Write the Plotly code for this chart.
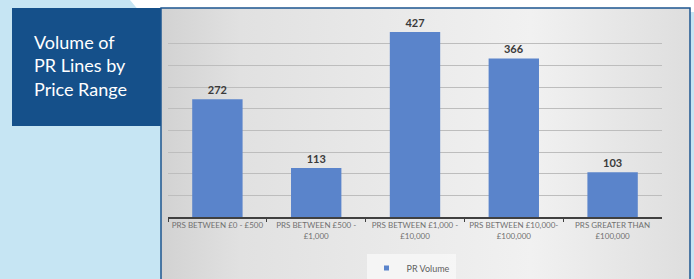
import plotly.graph_objects as go

categories = [
    "PRS BETWEEN £0 - £500",
    "PRS BETWEEN £500 -<br>£1,000",
    "PRS BETWEEN £1,000 -<br>£10,000",
    "PRS BETWEEN £10,000-<br>£100,000",
    "PRS GREATER THAN<br>£100,000",
]
pr_volume = [272, 113, 427, 366, 103]
series_name = "PR Volume"
title_text = "Volume of<br>PR Lines by<br>Price Range"

W, H = 694, 279
BAR_COLOR = "#5a84cb"
fig = go.Figure()

# panel background with gradient (on first subplot)
fig.add_trace(go.Scatter(
    x=[161, 690, 690, 161, 161], y=[8, 8, 279, 279, 8],
    mode="lines", line=dict(width=0), fill="toself",
    fillgradient=dict(type="horizontal",
                      colorscale=[[0, "#d2d2d2"], [0.15, "#e1e1e1"], [0.7, "#f1f1f1"], [1, "#dedede"]]),
    hoverinfo="skip", showlegend=False, xaxis="x", yaxis="y"))

# bars
fig.add_trace(go.Bar(
    x=categories, y=pr_volume, name=series_name, showlegend=False,
    marker=dict(color=BAR_COLOR, line=dict(width=0)),
    text=[str(v) for v in pr_volume], textposition="outside",
    textfont=dict(family="Lato, Arial", size=11, color="#3a3a3a", weight="bold"),
    cliponaxis=False, xaxis="x2", yaxis="y2"))

# legend entry (small square marker)
fig.add_trace(go.Scatter(
    x=[None], y=[None], mode="markers", name=series_name,
    marker=dict(symbol="square", size=5, color=BAR_COLOR),
    xaxis="x2", yaxis="y2"))

fig.update_layout(
    width=W, height=H,
    margin=dict(l=0, r=0, t=0, b=0, autoexpand=False),
    paper_bgcolor="#c6e5f3", plot_bgcolor="rgba(0,0,0,0)",
    bargap=0.49,
    showlegend=True,
    legend=dict(orientation="h", x=411 / W, xanchor="center", y=1 - 268 / H, yanchor="middle",
                bgcolor="rgba(246,246,246,0.9)", font=dict(family="Lato, Arial", size=9, color="#5f5f5f"),
                itemwidth=30, tracegroupgap=0),
    xaxis=dict(domain=[0, 1], range=[0, W], visible=False, fixedrange=True),
    yaxis=dict(domain=[0, 1], range=[H, 0], visible=False, fixedrange=True),
    xaxis2=dict(domain=[168 / W, 662 / W], anchor="y2", showgrid=False, showline=True,
                linecolor="#404040", linewidth=1.5, ticks="outside", tickson="boundaries",
                ticklen=3, tickcolor="#404040", tickwidth=1.2, tickangle=0, automargin=False,
                tickfont=dict(family="Lato, Arial", size=8, color="#707070")),
    yaxis2=dict(domain=[1 - 217 / H, 1 - 22 / H], anchor="x2", range=[0, 450], dtick=50,
                showgrid=True, gridcolor="#bdbdbd", gridwidth=1.3, showticklabels=False,
                zeroline=False, showline=False, automargin=False),
    shapes=[
        # white top-right region
        dict(type="path", xref="paper", yref="paper", layer="below",
             path=f"M {130/W} 1 L 1 1 L 1 {1-12/H} L {140/W} {1-12/H} Z",
             fillcolor="#ffffff", line=dict(width=0)),
        # title box
        dict(type="rect", xref="paper", yref="paper", layer="below",
             x0=12 / W, x1=161 / W, y0=1 - 126 / H, y1=1 - 8 / H,
             fillcolor="#15508a", line=dict(width=0)),
        # panel border
        dict(type="rect", xref="paper", yref="paper", layer="above",
             x0=161 / W, x1=690 / W, y0=-0.01, y1=1 - 8 / H,
             fillcolor="rgba(0,0,0,0)", line=dict(color="#1d5590", width=1.5)),
    ],
    annotations=[
        dict(text=title_text, xref="paper", yref="paper", x=32 / W, y=1 - 29 / H,
             xanchor="left", yanchor="top", align="left", showarrow=False,
             font=dict(family="Lato", size=18, color="#ffffff")),
    ],
)

fig.write_html("out.html", config={"displayModeBar": False},
               post_script="document.body.style.margin='0';document.body.style.overflow='hidden';")
